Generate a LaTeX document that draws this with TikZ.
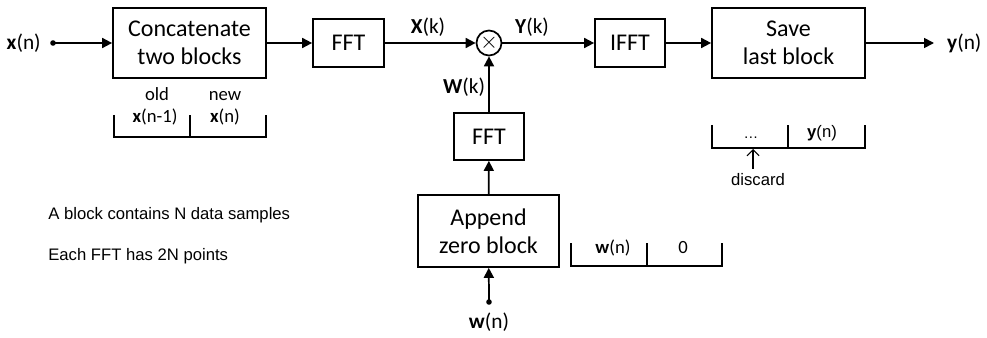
\documentclass[tikz,border=0pt]{standalone}
\usepackage{fontspec}
\setmainfont{Carlito}
\newfontfamily\notefont{Liberation Sans}
\usetikzlibrary{arrows.meta,positioning}
\newlength{\px}
\setlength{\px}{0.75pt}

\begin{document}
\begin{tikzpicture}[
    x=0.75pt,y=-0.75pt,
    line width=1.3pt,
    every node/.style={font=\fontsize{16}{18}\selectfont},
    blk/.style={draw,align=center,inner sep=2pt,
      font=\fontsize{18}{21}\selectfont},
    mult/.style={draw,circle,minimum size=25\px,inner sep=0pt},
    lbl/.style={font=\fontsize{14}{16}\selectfont,
      text height=1.6ex,text depth=.4ex},
    note/.style={font=\notefont\fontsize{12.5}{15}\selectfont,anchor=west},
    arr/.style={-{Triangle[length=7.5pt,width=7.5pt]}}
  ]
  \useasboundingbox (0,0) rectangle (987,338);

  % main chain
  \node[blk,minimum width=153\px,minimum height=70\px] (concat) at (189.5,43)
    {Concatenate\\two blocks};
  \node[blk,minimum width=71\px,minimum height=48\px] (fftx) at (348.5,43) {FFT};
  \node[mult] (prod) at (489,43) {$\times$};
  \node[blk,minimum width=70\px,minimum height=48\px] (ifft) at (630,43) {IFFT};
  \node[blk,minimum width=153\px,minimum height=70\px] (save) at (788.5,43)
    {Save\\last block};

  % filter branch
  \node[blk,minimum width=70\px,minimum height=47\px] (fftw) at (489,136.5) {FFT};
  \node[blk,minimum width=141\px,minimum height=72\px] (append) at (488.5,231)
    {Append\\zero block};

  % inputs and output
  \node[anchor=east] (xin) at (46,43) {\textbf{x}(n)};
  \coordinate (xdot) at (53,43);
  \fill (xdot) circle (2.8);
  \coordinate (wdot) at (489,302);
  \fill (wdot) circle (2.8);
  \node (win) at (489,322) {\textbf{w}(n)};
  \coordinate (yend) at (934,43);
  \node[anchor=west,inner sep=1pt] (yout) at (945,43) {\textbf{y}(n)};

  \draw[arr] (xdot) -- (concat);
  \draw[arr] (concat) -- (fftx);
  \draw[arr] (fftx) -- (prod);
  \draw[arr] (prod) -- (ifft);
  \draw[arr] (ifft) -- (save);
  \draw[arr] (save) -- (yend);
  \draw[arr] (wdot) -- (append);
  \draw[arr] (append) -- (fftw);
  \draw[arr] (fftw) -- (prod);

  \node (Xk) at (428,27) {\textbf{X}(k)};
  \node (Yk) at (532,27) {\textbf{Y}(k)};
  \node (Wk) at (464,87) {\textbf{W}(k)};

  % block layouts
  \draw (114,115) -- (114,137) -- (266,137) -- (266,115);
  \draw (190,137) -- (190,115);
  \node[lbl] (old) at (157,97) {old};
  \node[lbl] (new) at (225,97) {new};
  \node[lbl] (xold) at (155,119) {\textbf{x}(n-1)};
  \node[lbl] (xnew) at (225,119) {\textbf{x}(n)};

  \draw (712,125) -- (712,148) -- (865,148) -- (865,125);
  \draw (788,148) -- (788,125);
  \node[lbl,font=\notefont\fontsize{11}{13}\selectfont] (dots) at (751,135) {\dots};
  \node[lbl,font=\notefont\fontsize{12.5}{14}\selectfont] (ynew) at (822,134) {\textbf{y}(n)};
  \node[note,anchor=center] (disc) at (758,180) {discard};
  \draw[-{Straight Barb[length=1.6mm]},thick] (disc.north -| 753,0) -- (753,149);

  \draw (571,243) -- (571,266) -- (722,266) -- (722,243);
  \draw (647,266) -- (647,243);
  \node[lbl] (wblk) at (613,250) {\textbf{w}(n)};
  \node[lbl] (zero) at (683,250) {0};

  % notes
  \node[note] (n1) at (43,215) {A block contains N data samples};
  \node[note] (n2) at (43,256) {Each FFT has 2N points};
\end{tikzpicture}
\end{document}
